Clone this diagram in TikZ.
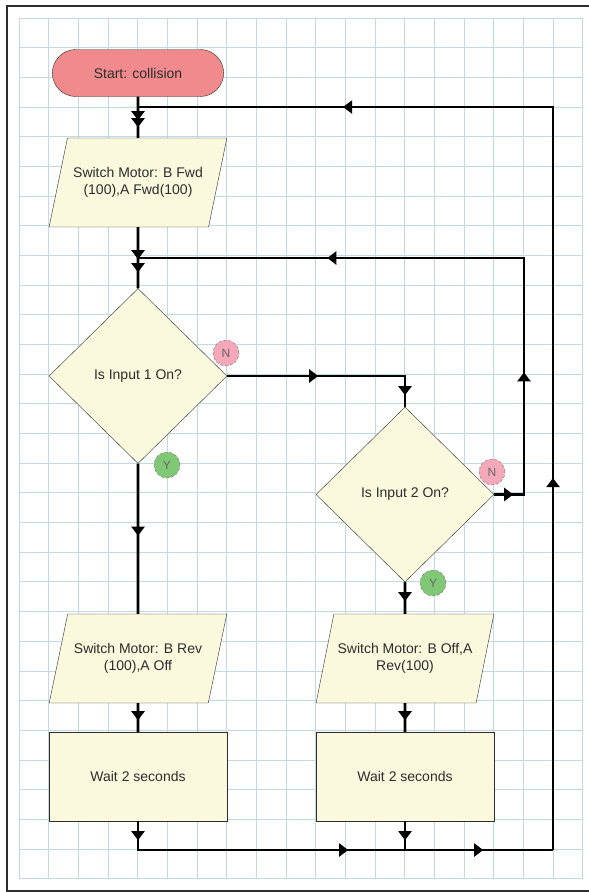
\documentclass[tikz,border=0pt]{standalone}
\usepackage{fontspec}
\setmainfont{Liberation Sans}
\usepackage{tikz}
\usetikzlibrary{shapes.geometric, shapes.misc, arrows.meta, decorations.markings}
\definecolor{gridblue}{RGB}{194,217,228}
\definecolor{boxcream}{RGB}{250,248,221}
\definecolor{startpink}{RGB}{240,138,140}
\definecolor{nopink}{RGB}{244,168,186}
\definecolor{yesgreen}{RGB}{128,200,118}
\definecolor{inkgray}{RGB}{45,45,45}
\tikzset{
  gridline/.style={draw=gridblue, line width=0.9pt},
  frame/.style={draw=inkgray, line width=2pt},
  terminal/.style={
    rounded rectangle, draw=inkgray, fill=startpink,
    minimum width=178pt, minimum height=47pt,
    text=inkgray, font=\fontsize{14}{17}\selectfont
  },
  motor/.style={
    trapezium, trapezium stretches=true,
    trapezium left angle=78.6, trapezium right angle=101.4,
    draw=inkgray, fill=boxcream, inner ysep=29pt,
    minimum width=178pt, minimum height=89pt,
    align=center, text=inkgray, font=\fontsize{14}{17}\selectfont
  },
  decision/.style={
    diamond, draw=inkgray, fill=boxcream,
    minimum width=178pt, minimum height=175pt,
    text=inkgray, font=\fontsize{14}{17}\selectfont
  },
  waitbox/.style={
    rectangle, draw=inkgray, fill=boxcream,
    minimum width=178pt, minimum height=89pt,
    text=inkgray, font=\fontsize{14}{17}\selectfont
  },
  nobadge/.style={
    circle, densely dashed, draw=black!55, fill=nopink,
    minimum size=26pt, inner sep=0pt,
    text=black!60, font=\fontsize{12}{12}\selectfont
  },
  yesbadge/.style={nobadge, fill=yesgreen},
  flow/.style={draw=black, line width=2.6pt},
  back/.style={draw=black, line width=1.9pt},
  tipat/.style={postaction={decorate, decoration={markings,
    mark=at position #1 with {\arrow{Triangle[width=13pt,length=9pt]}}}}},
}
\begin{document}
\begin{tikzpicture}[x=1pt, y=-1pt]
  \useasboundingbox (0,0) rectangle (589,892);
  % grid paper
  \foreach \i in {0,...,19}
    \draw[gridline] ({19+29.68*\i},18) -- ({19+29.68*\i},879);
  \foreach \j in {0,...,29}
    \draw[gridline] (19,{18+29.68*\j}) -- (583,{18+29.68*\j});
  \draw[frame] (589,6) -- (7,6) -- (7,891) -- (589,891);

  \node (start) [terminal] at (138,73)    {Start: collision};
  \node (fwd)   [motor]    at (138,182.5) {Switch Motor: B Fwd\\(100),A Fwd(100)};
  \node (in1)   [decision] at (138,376)   {Is Input 1 On?};
  \node (in2)   [decision] at (405,494.5) {Is Input 2 On?};
  \node (rev)   [motor]    at (138,658.5) {Switch Motor: B Rev\\(100),A Off};
  \node (off)   [motor]    at (405,658.5) {Switch Motor: B Off,A\\Rev(100)};
  \node (wait1) [waitbox]  at (138,776.5) {Wait 2 seconds};
  \node (wait2) [waitbox]  at (405,776.5) {Wait 2 seconds};

  \coordinate (merge1)   at (138,107);
  \coordinate (merge2)   at (138,258);
  \coordinate (loopR)    at (524,258);
  \coordinate (cornerTR) at (553,107);
  \coordinate (cornerBR) at (553,850);
  \coordinate (joinL)    at (138,850);
  \coordinate (joinR)    at (405,850);

  \draw[flow, tipat=23.5pt, tipat=30.5pt] (start.south) -- (fwd.north);
  \draw[flow, tipat=32pt, tipat=45pt]     (fwd.south) -- (in1.north);
  \draw[flow, tipat=91pt, tipat=197pt]    (in1.east) -| (in2.north);
  \draw[flow, tipat=72pt]                 (in1.south) -- (rev.north);
  \draw[flow, tipat=19pt]                 (in2.south) -- (off.north);
  \draw[flow, tipat=19pt, tipat=152pt, tipat=463pt] (in2.east) -| (loopR) -- (merge2);
  \draw[flow, tipat=17pt]                 (rev.south) -- (wait1.north);
  \draw[flow, tipat=17pt]                 (off.south) -- (wait2.north);
  \draw[back, tipat=19pt, tipat=239pt, tipat=374pt] (wait1.south) -- (joinL) -- (cornerBR);
  \draw[back, tipat=19pt]                 (wait2.south) -- (joinR);
  \draw[back, tipat=372pt, tipat=953pt]   (cornerBR) -- (cornerTR) -- (merge1);

  \node (no1)  [nobadge]  at (226,353) {N};
  \node (yes1) [yesbadge] at (167,465) {Y};
  \node (no2)  [nobadge]  at (492,472) {N};
  \node (yes2) [yesbadge] at (433,583) {Y};
\end{tikzpicture}
\end{document}
